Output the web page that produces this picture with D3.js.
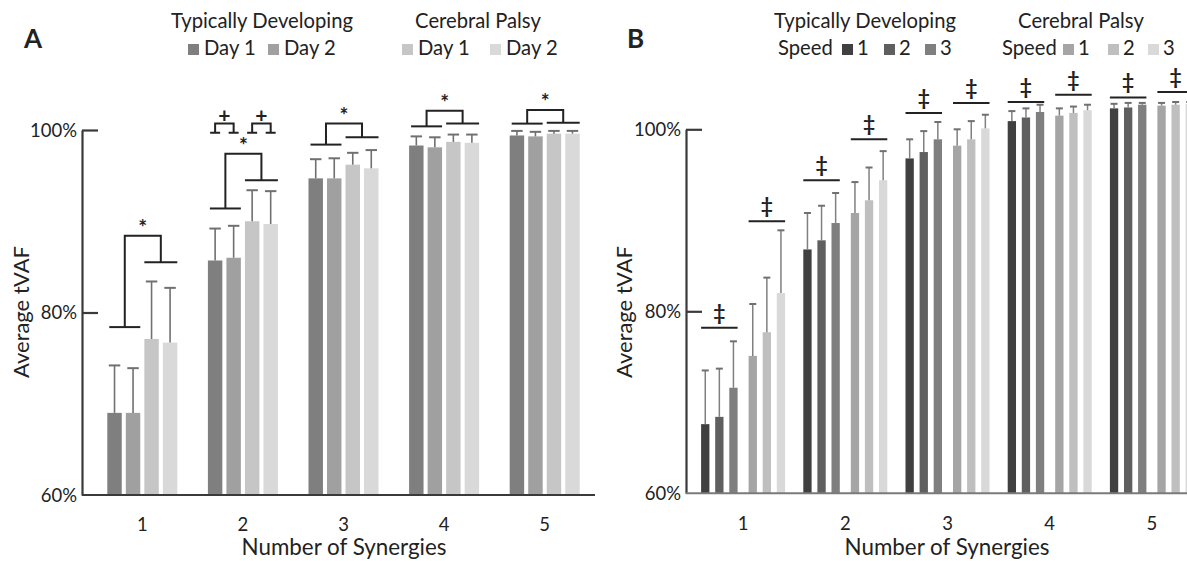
<!DOCTYPE html>
<html><head><meta charset="utf-8">
<script src="https://cdn.jsdelivr.net/npm/d3@7"></script>
<style>
body{margin:0;background:#fff}
text{font-family:Lato,"Open Sans",sans-serif;fill:#222}
</style>
</head><body>
<svg id="c" width="1187" height="561"></svg>
<script>
// ---------- shared ----------
const synergies = ["1","2","3","4","5"];
const yTickValues = [60, 80, 100];
const yTickLabels = ["60%", "80%", "100%"];

// ---------- Panel A (means and upper SD) ----------
const seriesA = ["TD Day 1", "TD Day 2", "CP Day 1", "CP Day 2"];
const colorsA = ["#7f7f7f", "#a0a0a0", "#c6c6c6", "#d9d9d9"];
const tdDay1 = [69.0, 85.7, 94.7, 98.3, 99.4];
const tdDay1Sd = [5.2, 3.5, 2.1, 1.0, 0.5];
const tdDay2 = [69.0, 86.0, 94.7, 98.1, 99.3];
const tdDay2Sd = [4.9, 3.5, 2.2, 1.1, 0.5];
const cpDay1 = [77.1, 90.0, 96.2, 98.7, 99.6];
const cpDay1Sd = [6.3, 3.4, 1.3, 0.8, 0.3];
const cpDay2 = [76.7, 89.7, 95.8, 98.6, 99.6];
const cpDay2Sd = [6.0, 3.6, 2.0, 0.9, 0.3];
// significance bracket levels (in % units)
const sigA_td = [78.4, 91.4, 98.4, 100.4, 100.7];
const sigA_cp = [85.5, 94.5, 99.2, 100.7, 100.8];
const sigA_top = [88.4, 97.4, 100.7, 102.1, 102.2];
const plusGroup = "2";
const plusFoot = 99.7, plusTop = 100.7;

// ---------- Panel B ----------
const seriesB = ["TD 1", "TD 2", "TD 3", "CP 1", "CP 2", "CP 3"];
const colorsB = ["#404040", "#5f5f5f", "#7f7f7f", "#a5a5a5", "#bfbfbf", "#d9d9d9"];
const tdS1 = [67.6, 86.8, 96.8, 100.9, 102.3];
const tdS1Sd = [5.9, 4.0, 2.1, 1.1, 0.5];
const tdS2 = [68.4, 87.8, 97.5, 101.3, 102.4];
const tdS2Sd = [5.3, 3.8, 2.3, 1.0, 0.5];
const tdS3 = [71.6, 89.7, 98.9, 101.9, 102.7];
const tdS3Sd = [5.1, 3.3, 1.9, 0.8, 0.2];
const cpS1 = [75.1, 90.8, 98.2, 101.5, 102.6];
const cpS1Sd = [5.7, 3.4, 1.8, 0.8, 0.3];
const cpS2 = [77.7, 92.2, 98.9, 101.8, 102.7];
const cpS2Sd = [6.0, 3.6, 2.0, 0.7, 0.3];
const cpS3 = [82.0, 94.4, 100.1, 102.1, 102.8];
const cpS3Sd = [6.9, 3.2, 1.5, 0.6, 0.2];
const sigB_td = [78.2, 94.4, 101.8, 103.0, 103.5];
const sigB_cp = [89.9, 98.9, 102.9, 103.8, 104.1];

const svg = d3.select("#c");
const axisColor = "#3a3a3a";

// font sizes calibrated from the widths of reference strings
function fitSize(str, target, weight) {
  const t = svg.append("text").style("font-size", "20px").style("font-weight", weight || "normal").text(str);
  const w = t.node().getComputedTextLength();
  t.remove();
  return 20 * target / w;
}
const FS_TICK = fitSize("100%", 47);
const FS_LEG = fitSize("Typically Developing", 182);
const FS_TITLE = fitSize("Number of Synergies", 205);
const FS_YT = fitSize("Average tVAF", 132);

function yAxis(g, y, x0) {
  const ax = d3.axisLeft(y).tickValues(yTickValues)
    .tickFormat((d, i) => yTickLabels[i]).tickSize(-16).tickSizeOuter(0).tickPadding(5);
  const a = g.append("g").attr("transform", `translate(${x0},0)`).call(ax);
  a.attr("font-size", null).attr("font-family", null);
  a.select(".domain").attr("stroke", axisColor).attr("stroke-width", 2.2);
  a.selectAll(".tick line").attr("stroke", axisColor).attr("stroke-width", 2.2);
  a.selectAll(".tick text").style("font-size", FS_TICK + "px").attr("fill", "#222").attr("dy", "0.35em");
  a.selectAll(".tick").filter(d => d === 60).select("line").remove();
}

// ================= PANEL A =================
(function(){
  const g = svg.append("g");
  const y = d3.scaleLinear().domain([60, 100]).range([495, 130]);
  const x = d3.scaleBand().domain(synergies).range([92, 595]);
  const xi = d3.scaleBand().domain(seriesA).range([-35, 35]).paddingInner(0.22);
  const means = [tdDay1, tdDay2, cpDay1, cpDay2];
  const sds = [tdDay1Sd, tdDay2Sd, cpDay1Sd, cpDay2Sd];
  const cx = s => x(s) + x.bandwidth() / 2;
  const rows = [];
  synergies.forEach((s, i) => seriesA.forEach((k, j) => rows.push({s, k, j, v: means[j][i], e: sds[j][i]})));

  g.selectAll("rect.bar").data(rows).join("rect")
    .attr("x", d => cx(d.s) + xi(d.k)).attr("width", xi.bandwidth())
    .attr("y", d => y(d.v)).attr("height", d => y(60) - y(d.v))
    .attr("fill", d => colorsA[d.j]);
  g.selectAll("line.err").data(rows).join("line")
    .attr("x1", d => cx(d.s) + xi(d.k) + xi.bandwidth() / 2).attr("x2", d => cx(d.s) + xi(d.k) + xi.bandwidth() / 2)
    .attr("y1", d => y(d.v)).attr("y2", d => y(d.v + d.e))
    .attr("stroke", "#707070").attr("stroke-width", 1.6);
  g.selectAll("line.cap").data(rows).join("line")
    .attr("x1", d => cx(d.s) + xi(d.k) + 1.5).attr("x2", d => cx(d.s) + xi(d.k) + xi.bandwidth() - 1.5)
    .attr("y1", d => y(d.v + d.e)).attr("y2", d => y(d.v + d.e))
    .attr("stroke", "#707070").attr("stroke-width", 2);

  const sig = g.append("g").attr("stroke", "#222").attr("stroke-width", 2).attr("fill", "none");
  synergies.forEach((s, i) => {
    const tdL = cx(s) + xi(seriesA[0]) + 2, tdR = cx(s) + xi(seriesA[1]) + xi.bandwidth();
    const cpL = cx(s) + xi(seriesA[2]), cpR = cx(s) + xi(seriesA[3]) + xi.bandwidth();
    const tdC = (tdL + tdR) / 2, cpC = (cpL + cpR) / 2;
    sig.append("line").attr("x1", tdL).attr("x2", tdR).attr("y1", y(sigA_td[i])).attr("y2", y(sigA_td[i]));
    sig.append("line").attr("x1", cpL).attr("x2", cpR).attr("y1", y(sigA_cp[i])).attr("y2", y(sigA_cp[i]));
    sig.append("path").attr("d", `M${tdC},${y(sigA_td[i])}V${y(sigA_top[i])}H${cpC}V${y(sigA_cp[i])}`);
    g.append("text").attr("x", (tdC + cpC) / 2).attr("y", y(sigA_top[i]) - 1)
      .attr("text-anchor", "middle").style("font-size", "21px").style("font-weight", "bold").text("*");
    if (s === plusGroup) {
      [[0, 1], [2, 3]].forEach(([a, b]) => {
        const ca = cx(s) + xi(seriesA[a]) + xi.bandwidth() / 2, cb = cx(s) + xi(seriesA[b]) + xi.bandwidth() / 2;
        sig.append("path").attr("d",
          `M${ca - 5},${y(plusFoot)}H${ca + 5}M${ca},${y(plusFoot)}V${y(plusTop)}H${cb}V${y(plusFoot)}M${cb - 5},${y(plusFoot)}H${cb + 5}`);
        g.append("text").attr("x", (ca + cb) / 2).attr("y", y(plusTop) - 1)
          .attr("text-anchor", "middle").style("font-size", "21px").style("font-weight", "bold").text("+");
      });
    }
  });

  yAxis(g, y, 82);
  g.append("line").attr("x1", 82).attr("x2", 595).attr("y1", y(60)).attr("y2", y(60))
    .attr("stroke", axisColor).attr("stroke-width", 2.2);
  g.selectAll("text.xl").data(synergies).join("text")
    .attr("x", d => cx(d)).attr("y", 531).attr("text-anchor", "middle").style("font-size", FS_TICK + "px").text(d => d);
  g.append("text").attr("x", 344).attr("y", 555).attr("text-anchor", "middle").style("font-size", FS_TITLE + "px").text("Number of Synergies");
  g.append("text").attr("transform", "translate(29,312) rotate(-90)").attr("text-anchor", "middle")
    .style("font-size", FS_YT + "px").text("Average tVAF");
  g.append("text").attr("x", 24).attr("y", 48).style("font-size", "26px").style("font-weight", "bold").text("A");

  g.append("text").attr("x", 262).attr("y", 28).attr("text-anchor", "middle").style("font-size", FS_LEG + "px").text("Typically Developing");
  g.append("text").attr("x", 478).attr("y", 28).attr("text-anchor", "middle").style("font-size", FS_LEG + "px").text("Cerebral Palsy");
  const legA = [[188, 0, "Day 1"], [268, 1, "Day 2"], [402, 2, "Day 1"], [490, 3, "Day 2"]];
  legA.forEach(([lx, j, t]) => {
    g.append("rect").attr("x", lx).attr("y", 44).attr("width", 11).attr("height", 11).attr("fill", colorsA[j]);
    g.append("text").attr("x", lx + 16).attr("y", 55).style("font-size", FS_LEG + "px").text(t);
  });
})();

// ================= PANEL B =================
(function(){
  const g = svg.append("g");
  const y = d3.scaleLinear().domain([60, 100]).range([493.3, 129.3]);
  const x = d3.scaleBand().domain(synergies).range([692, 1203]);
  const tdI = d3.scaleBand().domain(seriesB.slice(0, 3)).range([-42, -5.5]).paddingInner(0.41);
  const cpI = d3.scaleBand().domain(seriesB.slice(3)).range([5.5, 42]).paddingInner(0.41);
  const xi = k => (seriesB.indexOf(k) < 3 ? tdI(k) : cpI(k));
  const bw = tdI.bandwidth();
  const means = [tdS1, tdS2, tdS3, cpS1, cpS2, cpS3];
  const sds = [tdS1Sd, tdS2Sd, tdS3Sd, cpS1Sd, cpS2Sd, cpS3Sd];
  const cx = s => x(s) + x.bandwidth() / 2;
  const rows = [];
  synergies.forEach((s, i) => seriesB.forEach((k, j) => rows.push({s, k, j, v: means[j][i], e: sds[j][i]})));

  g.selectAll("rect.bar").data(rows).join("rect")
    .attr("x", d => cx(d.s) + xi(d.k)).attr("width", bw)
    .attr("y", d => y(d.v)).attr("height", d => y(60) - y(d.v))
    .attr("fill", d => colorsB[d.j]);
  g.selectAll("line.err").data(rows).join("line")
    .attr("x1", d => cx(d.s) + xi(d.k) + bw / 2).attr("x2", d => cx(d.s) + xi(d.k) + bw / 2)
    .attr("y1", d => y(d.v)).attr("y2", d => y(d.v + d.e))
    .attr("stroke", "#808080").attr("stroke-width", 1.5);
  g.selectAll("line.cap").data(rows).join("line")
    .attr("x1", d => cx(d.s) + xi(d.k) + bw / 2 - 3.5).attr("x2", d => cx(d.s) + xi(d.k) + bw / 2 + 3.5)
    .attr("y1", d => y(d.v + d.e)).attr("y2", d => y(d.v + d.e))
    .attr("stroke", "#707070").attr("stroke-width", 2);

  synergies.forEach((s, i) => {
    const tdL = cx(s) + tdI(seriesB[0]), tdR = cx(s) + tdI(seriesB[2]) + bw;
    const cpL = cx(s) + cpI(seriesB[3]), cpR = cx(s) + cpI(seriesB[5]) + bw;
    [[tdL, tdR, sigB_td[i]], [cpL, cpR, sigB_cp[i]]].forEach(([l, r, v]) => {
      g.append("line").attr("x1", l).attr("x2", r).attr("y1", y(v)).attr("y2", y(v))
        .attr("stroke", "#222").attr("stroke-width", 2);
      g.append("text").attr("x", (l + r) / 2).attr("y", y(v) - 8).attr("text-anchor", "middle")
        .style("font-size", "21px").style("font-weight", "bold").text("‡");
    });
  });

  yAxis(g, y, 686);
  g.append("line").attr("x1", 686).attr("x2", 1187).attr("y1", y(60)).attr("y2", y(60))
    .attr("stroke", "#7a7a7a").attr("stroke-width", 2);
  g.selectAll("text.xl").data(synergies).join("text")
    .attr("x", d => cx(d)).attr("y", 530).attr("text-anchor", "middle").style("font-size", FS_TICK + "px").text(d => d);
  g.append("text").attr("x", 947).attr("y", 555).attr("text-anchor", "middle").style("font-size", FS_TITLE + "px").text("Number of Synergies");
  g.append("text").attr("transform", "translate(632,312) rotate(-90)").attr("text-anchor", "middle")
    .style("font-size", FS_YT + "px").text("Average tVAF");
  g.append("text").attr("x", 627).attr("y", 48).style("font-size", "26px").style("font-weight", "bold").text("B");

  g.append("text").attr("x", 865).attr("y", 28).attr("text-anchor", "middle").style("font-size", FS_LEG + "px").text("Typically Developing");
  g.append("text").attr("x", 1081).attr("y", 28).attr("text-anchor", "middle").style("font-size", FS_LEG + "px").text("Cerebral Palsy");
  g.append("text").attr("x", 778).attr("y", 55).style("font-size", FS_LEG + "px").text("Speed");
  g.append("text").attr("x", 1002).attr("y", 55).style("font-size", FS_LEG + "px").text("Speed");
  const legB = [[842, 0, "1"], [884, 1, "2"], [925, 2, "3"], [1063, 3, "1"], [1108, 4, "2"], [1148, 5, "3"]];
  legB.forEach(([lx, j, t]) => {
    g.append("rect").attr("x", lx).attr("y", 44).attr("width", 11).attr("height", 11).attr("fill", colorsB[j]);
    g.append("text").attr("x", lx + 15).attr("y", 55).style("font-size", FS_LEG + "px").text(t);
  });
})();
</script>
</body></html>
